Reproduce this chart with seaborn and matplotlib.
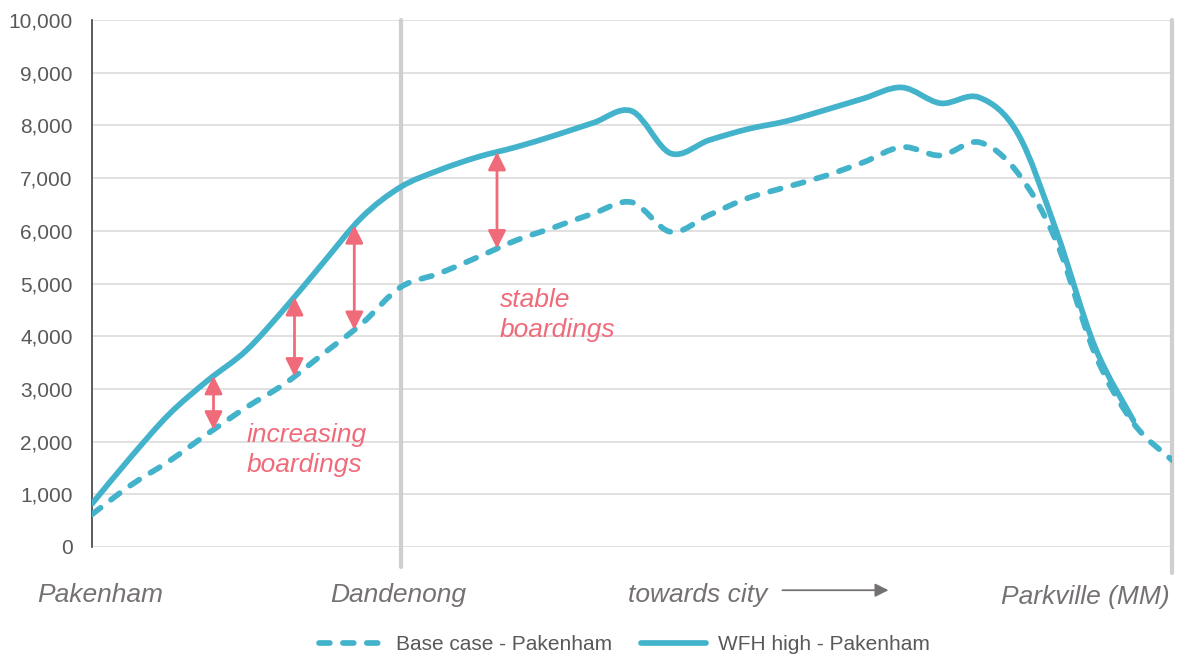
import numpy as np
import pandas as pd
import matplotlib
matplotlib.use("Agg")
import matplotlib.pyplot as plt
import seaborn as sns
from matplotlib.path import Path
from matplotlib.patches import PathPatch
from matplotlib.lines import Line2D
from matplotlib.ticker import FuncFormatter

# Station-by-station train load along the line (index 0 = Pakenham, 8 = Dandenong, 28 = Parkville)
stop_index = list(range(29))
base_case = [620, 1170, 1630, 2150, 2650, 3100, 3670, 4240, 4930, 5190,
             5500, 5820, 6070, 6330, 6540, 5980, 6300, 6620, 6830, 7040,
             7300, 7590, 7430, 7680, 7100, 5800, 3670, 2350, 1650]
wfh_high = [820, 1700, 2520, 3160, 3730, 4530, 5400, 6260, 6830, 7150,
            7400, 7590, 7810, 8050, 8270, 7470, 7720, 7930, 8080, 8290,
            8510, 8720, 8420, 8530, 7850, 6000, 3800, 2400, np.nan]

series_names = ["Base case - Pakenham", "WFH high - Pakenham"]
place_labels = ["Pakenham", "Dandenong", "Parkville (MM)"]
y_ticks = list(range(0, 10001, 1000))

TEAL = "#42B3CA"
PINK = "#F06B7A"
GRID = "#D9D9D9"
DIVIDER = "#D0CECE"
TICK_TEXT = "#595959"
PLACE_TEXT = "#767171"
LINE_W = 4.1
DASH = (0, (1.9, 2.3))


def bezier_segments(x, y):
    """Control points of a smoothed (Catmull-Rom style) line through the points."""
    pts = np.column_stack([x, y]).astype(float)
    n = len(pts)
    segs = []
    for i in range(n - 1):
        p0 = pts[i - 1] if i > 0 else pts[i]
        p1, p2 = pts[i], pts[i + 1]
        p3 = pts[i + 2] if i + 2 < n else pts[i + 1]
        segs.append((p1, p1 + (p2 - p0) / 6.0, p2 - (p3 - p1) / 6.0, p2))
    return segs


def smooth_path(x, y):
    segs = bezier_segments(x, y)
    verts = [segs[0][0]]
    codes = [Path.MOVETO]
    for _, c1, c2, p2 in segs:
        verts += [c1, c2, p2]
        codes += [Path.CURVE4] * 3
    return Path(verts, codes)


def value_on_curve(x, y, xq):
    """Height of the smoothed line at a fractional station position."""
    segs = bezier_segments(x, y)
    i = min(int(np.floor(xq)), len(segs) - 1)
    t = xq - i
    p1, c1, c2, p2 = segs[i]
    b = ((1 - t) ** 3) * p1 + 3 * ((1 - t) ** 2) * t * c1 + 3 * (1 - t) * t * t * c2 + (t ** 3) * p2
    return b[1]


sns.set_style("white")
plt.rcParams["font.family"] = ["Liberation Sans", "DejaVu Sans"]

fig = plt.figure(figsize=(11.81, 6.59), dpi=100)
ax = fig.add_axes([92 / 1181, 1 - 547 / 659, 1080 / 1181, 527 / 659])

df = pd.DataFrame({"stop": stop_index, series_names[0]: base_case, series_names[1]: wfh_high})

styles = {
    series_names[0]: dict(ls=DASH, z=4),
    series_names[1]: dict(ls="solid", z=5),
}
curves = {}
for name in series_names:
    sub = df[["stop", name]].dropna()
    sns.lineplot(data=sub, x="stop", y=name, ax=ax, color=TEAL, lw=LINE_W, legend=False)
    line = ax.lines[-1]
    xs, ys = line.get_xdata(), line.get_ydata()
    line.set_visible(False)
    curves[name] = (np.asarray(xs, float), np.asarray(ys, float))
    patch = PathPatch(smooth_path(xs, ys), fill=False, edgecolor=TEAL, lw=LINE_W,
                      linestyle=styles[name]["ls"], capstyle="round", joinstyle="round",
                      zorder=styles[name]["z"])
    ax.add_patch(patch)

ax.set_xlim(0, 28)
ax.set_ylim(0, 10000)
ax.set_xlabel("")
ax.set_ylabel("")
ax.set_xticks([])
ax.set_yticks(y_ticks)
ax.yaxis.set_major_formatter(FuncFormatter(lambda v, _: f"{int(v):,}"))
ax.tick_params(axis="y", direction="in", length=5, width=1.2, color="#404040",
               pad=14, labelsize=15, labelcolor=TICK_TEXT)
ax.grid(axis="y", color=GRID, lw=1.1, zorder=0)
ax.set_axisbelow(True)
for s in ["top", "right", "bottom"]:
    ax.spines[s].set_visible(False)
ax.spines["left"].set_color("#404040")
ax.spines["left"].set_linewidth(1.2)
ax.spines["left"].set_zorder(3)

# Dividers at Dandenong and at the end of the line
ax.axvline(8, ymin=-0.038, ymax=1, color=DIVIDER, lw=3, clip_on=False, zorder=1)
ax.axvline(28, ymin=-0.05, ymax=1, color=DIVIDER, lw=3, clip_on=False, zorder=1)

# Place names under the axis
xt = ax.get_xaxis_transform()
lab_kw = dict(transform=xt, fontsize=19, style="italic", color=PLACE_TEXT,
              va="baseline", clip_on=False)
ax.text(0.2, -0.105, place_labels[0], ha="center", **lab_kw)
ax.text(7.93, -0.105, place_labels[1], ha="center", **lab_kw)
ax.text(27.95, -0.108, place_labels[2], ha="right", **lab_kw)
ax.text(15.7, -0.105, "towards city", ha="center", **lab_kw)
ax.annotate("", xy=(20.65, -0.082), xytext=(17.9, -0.082), xycoords=xt, textcoords=xt,
            arrowprops=dict(arrowstyle="-|>", color=PLACE_TEXT, lw=1.3,
                            mutation_scale=20, shrinkA=0, shrinkB=0),
            annotation_clip=False)

# Gap arrows between the two scenarios
bx, by = curves[series_names[0]]
wx, wy = curves[series_names[1]]
for xq in [3.15, 5.25, 6.8, 10.5]:
    lo = value_on_curve(bx, by, xq)
    hi = value_on_curve(wx, wy, xq)
    ax.annotate("", xy=(xq, hi), xytext=(xq, lo),
                arrowprops=dict(arrowstyle="<|-|>", color=PINK, lw=2,
                                mutation_scale=27, shrinkA=0, shrinkB=0),
                zorder=6)

note_kw = dict(fontsize=19, style="italic", color=PINK, ha="left", va="baseline", zorder=6)
ax.text(4.0, 1990, "increasing", **note_kw)
ax.text(4.0, 1420, "boardings", **note_kw)
ax.text(10.58, 4550, "stable", **note_kw)
ax.text(10.58, 3980, "boardings", **note_kw)

handles = [
    Line2D([], [], color=TEAL, lw=LINE_W, linestyle=DASH, dash_capstyle="round"),
    Line2D([], [], color=TEAL, lw=LINE_W, solid_capstyle="round"),
]
leg = ax.legend(handles, series_names, loc="center", bbox_to_anchor=(0.493, -0.185),
                ncol=2, frameon=False, fontsize=15, handlelength=3.1,
                handletextpad=0.6, columnspacing=1.4)
for t in leg.get_texts():
    t.set_color(TICK_TEXT)

fig.savefig("out.png", dpi=100)
